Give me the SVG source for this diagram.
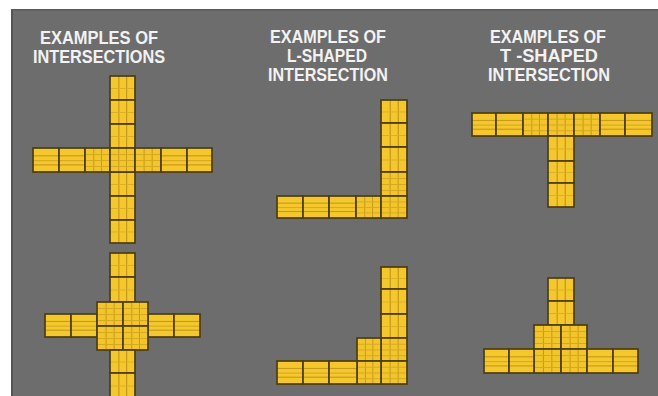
<svg xmlns="http://www.w3.org/2000/svg" width="658" height="396" viewBox="0 0 658 396">
<style>
.t{font-family:"Liberation Sans",Arial,sans-serif;font-weight:bold;font-size:18px;fill:#f2f2f2;text-anchor:middle}
.h{fill:url(#ph);stroke:#4e3c10;stroke-width:1.7}
.v{fill:url(#pv);stroke:#4e3c10;stroke-width:1.7}
.g{fill:url(#pg);stroke:#4e3c10;stroke-width:1.7}
</style>
<defs>
<pattern id="ph" patternUnits="objectBoundingBox" patternContentUnits="objectBoundingBox" width="1" height="1">
<rect width="1" height="1" fill="#f4c82d"/>
<rect y="0.3" width="1" height="0.05" fill="#c99a1e"/>
<rect y="0.5" width="1" height="0.05" fill="#d8aa22"/>
<rect y="0.68" width="1" height="0.05" fill="#c99a1e"/>
</pattern>
<pattern id="pv" patternUnits="objectBoundingBox" patternContentUnits="objectBoundingBox" width="1" height="1">
<rect width="1" height="1" fill="#f4c82d"/>
<rect x="0.33" width="0.05" height="1" fill="#c99a1e"/>
<rect x="0.64" width="0.05" height="1" fill="#c99a1e"/>
<rect y="0.5" width="1" height="0.04" fill="#dcae26"/>
</pattern>
<pattern id="pg" patternUnits="objectBoundingBox" patternContentUnits="objectBoundingBox" width="1" height="1">
<rect width="1" height="1" fill="#f2c52b"/>
<rect x="0.33" width="0.04" height="1" fill="#c99a1e"/>
<rect x="0.64" width="0.04" height="1" fill="#c99a1e"/>
<rect y="0.25" width="1" height="0.04" fill="#d6a822"/>
<rect y="0.5" width="1" height="0.04" fill="#d6a822"/>
<rect y="0.75" width="1" height="0.04" fill="#d6a822"/>
</pattern>
</defs>
<rect width="658" height="396" fill="#ffffff"/>
<rect x="11" y="9" width="647" height="387" fill="#6d6d6d"/>
<rect x="11" y="9" width="2" height="387" fill="#555555"/>
<rect x="11" y="9" width="647" height="1.5" fill="#5a5a5a"/>

<g id="titles">
<text class="t" x="99" y="44" textLength="118" lengthAdjust="spacingAndGlyphs">EXAMPLES OF</text>
<text class="t" x="99" y="63" textLength="132" lengthAdjust="spacingAndGlyphs">INTERSECTIONS</text>
<text class="t" x="328" y="43" textLength="116" lengthAdjust="spacingAndGlyphs">EXAMPLES OF</text>
<text class="t" x="327" y="62" textLength="80" lengthAdjust="spacingAndGlyphs">L-SHAPED</text>
<text class="t" x="328" y="81" textLength="120" lengthAdjust="spacingAndGlyphs">INTERSECTION</text>
<text class="t" x="548" y="43" textLength="116" lengthAdjust="spacingAndGlyphs">EXAMPLES OF</text>
<text class="t" x="549" y="62" textLength="98" lengthAdjust="spacingAndGlyphs">T -SHAPED</text>
<text class="t" x="549" y="81" textLength="122" lengthAdjust="spacingAndGlyphs">INTERSECTION</text>
</g>

<g id="connectors"></g>

<g id="cross1">
<rect class="v" x="110" y="76" width="25" height="24"/>
<rect class="v" x="110" y="100" width="25" height="24"/>
<rect class="v" x="110" y="124" width="25" height="24"/>
<rect class="v" x="110" y="172" width="25" height="24"/>
<rect class="v" x="110" y="196" width="25" height="24"/>
<rect class="v" x="110" y="220" width="25" height="23"/>
<rect class="h" x="33" y="148" width="26" height="24"/>
<rect class="h" x="59" y="148" width="26" height="24"/>
<rect class="g" x="85" y="148" width="25" height="24"/>
<rect class="g" x="110" y="148" width="25" height="24"/>
<rect class="g" x="135" y="148" width="26" height="24"/>
<rect class="h" x="161" y="148" width="26" height="24"/>
<rect class="h" x="187" y="148" width="25" height="24"/>
</g>

<g id="cross2">
<rect class="v" x="110" y="253" width="25" height="24"/>
<rect class="v" x="110" y="277" width="25" height="25"/>
<rect class="h" x="45" y="314" width="26" height="23"/>
<rect class="h" x="71" y="314" width="26" height="23"/>
<rect class="h" x="148" y="314" width="26" height="23"/>
<rect class="h" x="174" y="314" width="26" height="23"/>
<rect class="g" x="97" y="302" width="26" height="24"/>
<rect class="g" x="123" y="302" width="25" height="24"/>
<rect class="g" x="97" y="326" width="26" height="24"/>
<rect class="g" x="123" y="326" width="25" height="24"/>
<rect class="v" x="110" y="350" width="25" height="23"/>
<rect class="v" x="110" y="373" width="25" height="25"/>
</g>

<g id="lshape1">
<rect class="v" x="381" y="100" width="26" height="23"/>
<rect class="v" x="381" y="123" width="26" height="24"/>
<rect class="v" x="381" y="147" width="26" height="25"/>
<rect class="g" x="381" y="172" width="26" height="24"/>
<rect class="h" x="277" y="196" width="26" height="22"/>
<rect class="h" x="303" y="196" width="26" height="22"/>
<rect class="h" x="329" y="196" width="27" height="22"/>
<rect class="g" x="356" y="196" width="25" height="22"/>
<rect class="g" x="381" y="196" width="26" height="22"/>
</g>

<g id="lshape2">
<rect class="v" x="381" y="267" width="26" height="22"/>
<rect class="v" x="381" y="289" width="26" height="25"/>
<rect class="v" x="381" y="314" width="26" height="24"/>
<rect class="g" x="381" y="338" width="26" height="23"/>
<rect class="g" x="381" y="361" width="26" height="23"/>
<rect class="g" x="357" y="338" width="24" height="23"/>
<rect class="g" x="357" y="361" width="24" height="23"/>
<rect class="h" x="277" y="361" width="26" height="23"/>
<rect class="h" x="303" y="361" width="26" height="23"/>
<rect class="h" x="329" y="361" width="28" height="23"/>
</g>

<g id="tshape1">
<rect class="h" x="472" y="113" width="24" height="23"/>
<rect class="h" x="496" y="113" width="27" height="23"/>
<rect class="g" x="523" y="113" width="25" height="23"/>
<rect class="g" x="548" y="113" width="26" height="23"/>
<rect class="g" x="574" y="113" width="26" height="23"/>
<rect class="h" x="600" y="113" width="25" height="23"/>
<rect class="h" x="625" y="113" width="27" height="23"/>
<rect class="v" x="548" y="136" width="26" height="25"/>
<rect class="v" x="548" y="161" width="26" height="22"/>
<rect class="v" x="548" y="183" width="26" height="24"/>
</g>

<g id="tshape2">
<rect class="v" x="548" y="278" width="26" height="23"/>
<rect class="v" x="548" y="301" width="26" height="24"/>
<rect class="g" x="534" y="325" width="27" height="24"/>
<rect class="g" x="561" y="325" width="26" height="24"/>
<rect class="g" x="534" y="349" width="27" height="24"/>
<rect class="g" x="561" y="349" width="26" height="24"/>
<rect class="h" x="484" y="349" width="25" height="24"/>
<rect class="h" x="509" y="349" width="25" height="24"/>
<rect class="h" x="587" y="349" width="26" height="24"/>
<rect class="h" x="613" y="349" width="25" height="24"/>
</g>
</svg>
